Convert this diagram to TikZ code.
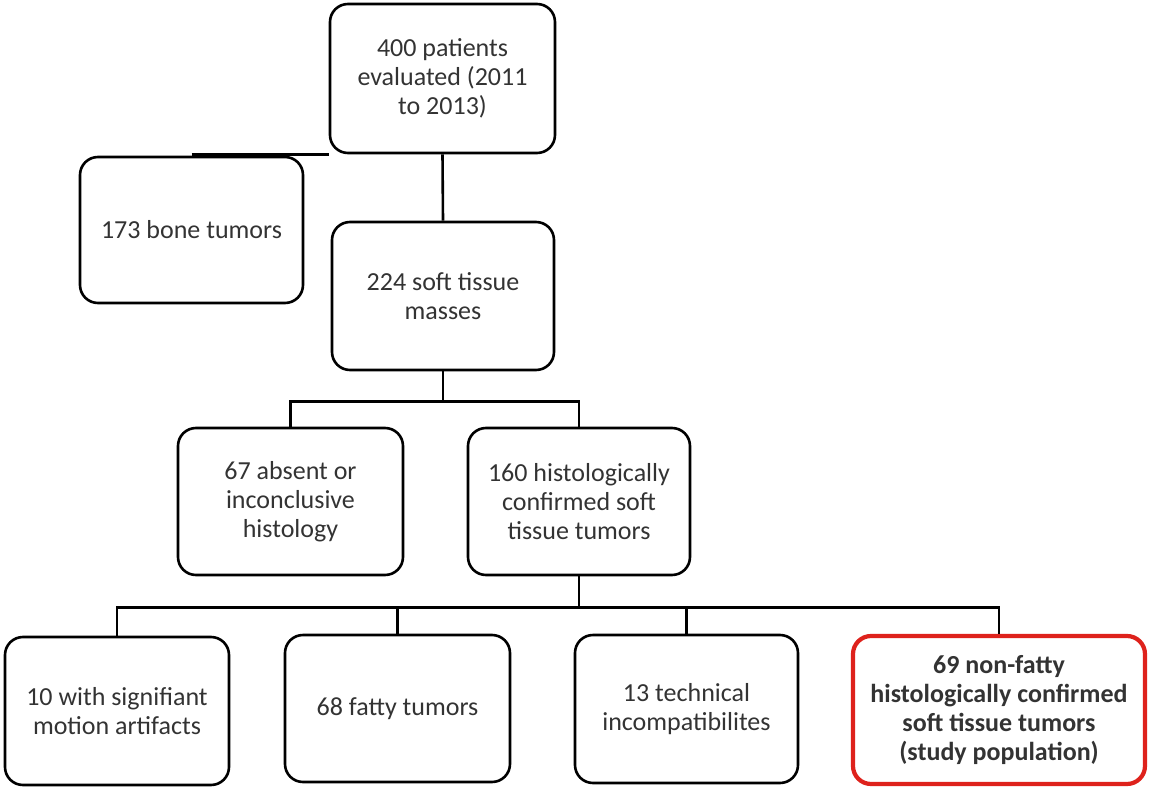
\documentclass[tikz,border=0pt]{standalone}
\usepackage{fontspec}
\setmainfont{Carlito}
\usepackage{tikz}
\definecolor{studyred}{RGB}{222,34,28}

\begin{document}
\begin{tikzpicture}[x=1pt,y=-1pt]
        \tikzstyle{box}=[draw=black, line width=2.6pt, rounded corners=18pt, align=center, inner sep=4pt, font=\fontsize{26}{29}\selectfont, text=black!80]
        \tikzstyle{studybox}=[box, draw=studyred, line width=4.2pt, font=\fontsize{26}{29}\selectfont\bfseries]
        \tikzstyle{link}=[black, line width=2.6pt]
        \useasboundingbox (0,0) rectangle (1152,787);
        \node [box, minimum width=225pt, minimum height=149pt] (p400) at (442.5,78.5) {400 patients\\evaluated (2011\\to 2013)};
        \node [box, minimum width=223pt, minimum height=146pt] (bone) at (191.5,230) {173 bone tumors};
        \node [box, minimum width=222pt, minimum height=148pt] (soft) at (443,296) {224 soft tissue\\masses};
        \node [box, minimum width=225pt, minimum height=147pt] (absent) at (290.5,501.5) {67 absent or\\inconclusive\\histology};
        \node [box, minimum width=222pt, minimum height=147pt] (confirmed) at (579,501.5) {160 histologically\\confirmed soft\\tissue tumors};
        \node [box, minimum width=224pt, minimum height=148pt] (motion) at (117,711) {10 with signifiant\\motion artifacts};
        \node [box, minimum width=225pt, minimum height=147pt] (fatty) at (397.5,708.5) {68 fatty tumors};
        \node [box, minimum width=223pt, minimum height=148pt] (technical) at (686.5,709) {13 technical\\incompatibilites};
        \node [studybox, minimum width=292pt, minimum height=148pt] (study) at (999,710) {69 non-fatty\\histologically confirmed\\soft tissue tumors\\(study population)};
        \draw [link] (p400.south) -- (soft.north);
        \draw [link] ([yshift=1.5pt]bone.north) -- ([yshift=1.5pt]bone.north -| p400.south west);
        \draw [link] (soft.south) -- ++(0,30) coordinate (j1);
        \draw [link] (absent.north) |- (j1) -| (confirmed.north);
        \draw [link] (confirmed.south) -- ++(0,31) coordinate (j2);
        \draw [link] (motion.north) |- (j2) -| (study.north);
        \draw [link] (fatty.north) -- (fatty.north |- j2);
        \draw [link] (technical.north) -- (technical.north |- j2);
\end{tikzpicture}
\end{document}
